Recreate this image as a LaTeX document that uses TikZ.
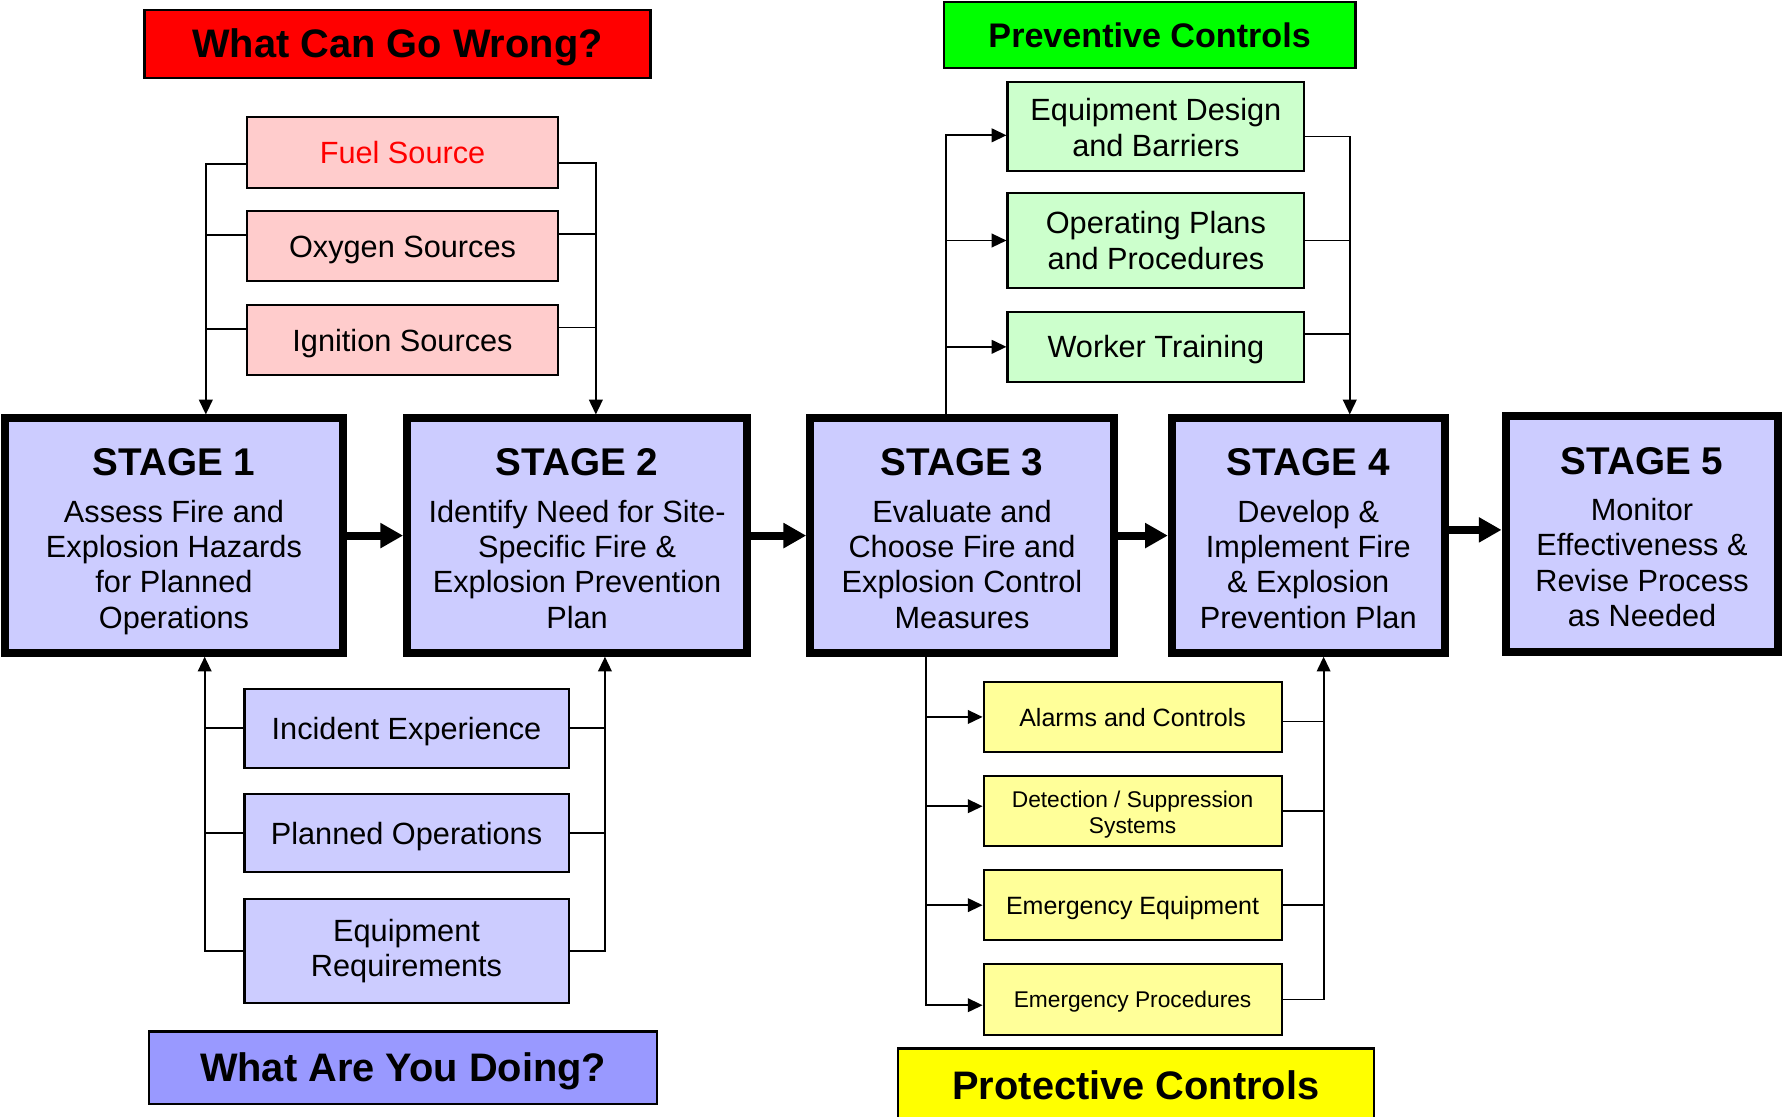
\documentclass[tikz,border=0pt]{standalone}
\usepackage{fontspec}
\setmainfont{Liberation Sans}
\usetikzlibrary{arrows.meta}

\definecolor{wrongred}{HTML}{FF0000}
\definecolor{sourcefill}{HTML}{FFCCCC}
\definecolor{stagefill}{HTML}{CCCCFF}
\definecolor{doingblue}{HTML}{9999FF}
\definecolor{prevgreen}{HTML}{00FF00}
\definecolor{prevfill}{HTML}{CCFFCC}
\definecolor{protyellow}{HTML}{FFFF00}
\definecolor{protfill}{HTML}{FFFF99}

\tikzset{
  header/.style={draw, line width=2pt, inner sep=0pt, text height=25pt, text depth=0pt,
    font=\fontsize{35}{40}\selectfont\bfseries},
  stage/.style={draw, line width=7pt, fill=stagefill, align=center,
    inner sep=0pt, minimum height=206, font=\fontsize{27}{31}\selectfont},
  item/.style={draw, line width=1.8pt, align=center, inner sep=0pt,
    font=\fontsize{27}{31}\selectfont},
  oneline/.style={text height=19.5pt, text depth=0pt},
  link/.style={line width=1.6pt},
  tip/.style={link, -{Triangle[length=13pt, width=12pt]}},
  flow/.style={line width=7pt, -{Triangle[length=20pt, width=21pt]}},
}
\newcommand{\stagetitle}[1]{\rule{0pt}{38pt}{\fontsize{34}{34}\selectfont\bfseries #1}\\[10pt]}

\begin{document}
\begin{tikzpicture}[x=1pt, y=-1pt]
\useasboundingbox (0,0) rectangle (1568,982);

% headers
\node[header, fill=wrongred, minimum width=445, minimum height=60] (wrong) at (349.5,38.5) {What Can Go Wrong?};
\node[header, fill=prevgreen, minimum width=362, minimum height=58, text height=21.5pt,
  font=\fontsize{30}{34}\selectfont\bfseries] (prev) at (1011,31) {Preventive Controls};
\node[header, fill=doingblue, minimum width=447, minimum height=64] (doing) at (354.5,939) {What Are You Doing?};
\node[header, fill=protyellow, minimum width=418, minimum height=64] (prot) at (999,954) {Protective Controls};

% stages
\node[stage, minimum width=298] (s1) at (153,471)
  {\stagetitle{STAGE 1}Assess Fire and\\Explosion Hazards\\for Planned\\Operations\strut};
\node[stage, minimum width=299] (s2) at (507.5,471)
  {\stagetitle{STAGE 2}Identify Need for Site-\\Specific Fire \&\\Explosion Prevention\\Plan\strut};
\node[stage, minimum width=267] (s3) at (846,471)
  {\stagetitle{STAGE 3}Evaluate and\\Choose Fire and\\Explosion Control\\Measures\strut};
\node[stage, minimum width=240] (s4) at (1150.5,471)
  {\stagetitle{STAGE 4}Develop \&\\Implement Fire\\\& Explosion\\Prevention Plan\strut};
\node[stage, minimum width=240, minimum height=208] (s5) at (1444,469.5)
  {\stagetitle{STAGE 5}Monitor\\Effectiveness \&\\Revise Process\\as Needed\strut};

\draw[flow] (s1) -- (s2);
\draw[flow] (s2) -- (s3);
\draw[flow] (s3) -- (s4);
\draw[flow] ([yshift=5]s4.east) -- ([yshift=5]s4.east -| s5.west);

% what can go wrong
\node[item, oneline, fill=sourcefill, text=wrongred, minimum width=274, minimum height=62] (fuel) at (354,134) {Fuel Source};
\node[item, oneline, fill=sourcefill, minimum width=274, minimum height=62] (oxy) at (354,216.5) {Oxygen Sources};
\node[item, oneline, fill=sourcefill, minimum width=274, minimum height=62] (ign) at (354,299) {Ignition Sources};

\coordinate (srcL) at (181,0);
\coordinate (srcR) at (524,0);
\draw[tip] ([yshift=-10]fuel.west) -| (s1.north -| srcL);
\draw[link] ([yshift=10]oxy.west) -- ([yshift=10]oxy.west -| srcL);
\draw[link] ([yshift=10]ign.west) -- ([yshift=10]ign.west -| srcL);
\draw[tip] ([yshift=-9]fuel.east) -| (s2.north -| srcR);
\draw[link] ([yshift=11]oxy.east) -- ([yshift=11]oxy.east -| srcR);
\draw[link] ([yshift=11]ign.east) -- ([yshift=11]ign.east -| srcR);

% what are you doing
\node[item, oneline, fill=stagefill, minimum width=285, minimum height=69] (inc) at (357.5,640.5) {Incident Experience};
\node[item, oneline, fill=stagefill, minimum width=285, minimum height=69] (plan) at (357.5,732.5) {Planned Operations};
\node[item, fill=stagefill, minimum width=285, minimum height=91] (req) at (357.5,836.5) {Equipment\\Requirements};

\coordinate (doL) at (180,0);
\coordinate (doR) at (532,0);
\draw[tip] (req.west) -| (s1.south -| doL);
\draw[link] (inc.west) -- (inc.west -| doL);
\draw[link] (plan.west) -- (plan.west -| doL);
\draw[tip] (req.east) -| (s2.south -| doR);
\draw[link] (inc.east) -- (inc.east -| doR);
\draw[link] (plan.east) -- (plan.east -| doR);

% preventive controls
\node[item, fill=prevfill, minimum width=261, minimum height=78] (design) at (1016.5,111) {\rule{0pt}{22pt}Equipment Design\\and Barriers};
\node[item, fill=prevfill, minimum width=261, minimum height=83] (oper) at (1016.5,211.5) {Operating Plans\\and Procedures};
\node[item, oneline, fill=prevfill, minimum width=261, minimum height=62] (train) at (1016.5,305) {Worker Training};

\coordinate (prevL) at (832,0);
\coordinate (prevR) at (1187,0);
\draw[tip] (s3.north -| prevL) |- ([yshift=-8]design.west);
\draw[tip] (oper.west -| prevL) -- (oper.west);
\draw[tip] (train.west -| prevL) -- (train.west);
\draw[tip] ([yshift=-9]design.east) -| (s4.north -| prevR);
\draw[link] (oper.east) -- (oper.east -| prevR);
\draw[link] ([yshift=11]train.east) -- ([yshift=11]train.east -| prevR);

% protective controls
\node[item, oneline, fill=protfill, minimum width=262, minimum height=62,
  font=\fontsize{22}{25}\selectfont, text height=16pt] (alarm) at (996,630.5) {Alarms and Controls};
\node[item, fill=protfill, minimum width=262, minimum height=62,
  font=\fontsize{20}{23}\selectfont] (detect) at (996,713) {\rule{0pt}{21pt}Detection / Suppression\\Systems};
\node[item, oneline, fill=protfill, minimum width=262, minimum height=62,
  font=\fontsize{22}{25}\selectfont, text height=16pt] (emeq) at (996,796) {Emergency Equipment};
\node[item, oneline, fill=protfill, minimum width=262, minimum height=62,
  font=\fontsize{20}{23}\selectfont, text height=14.5pt] (empr) at (996,879) {Emergency Procedures};

\coordinate (protL) at (814,0);
\coordinate (protR) at (1164,0);
\draw[tip] (s3.south -| protL) |- ([yshift=-5]empr.west);
\draw[tip] (alarm.west -| protL) -- (alarm.west);
\draw[tip] ([yshift=4]detect.west -| protL) -- ([yshift=4]detect.west);
\draw[tip] (emeq.west -| protL) -- (emeq.west);
\draw[tip] (empr.east) -| (s4.south -| protR);
\draw[link] ([yshift=-4]alarm.east) -- ([yshift=-4]alarm.east -| protR);
\draw[link] (detect.east) -- (detect.east -| protR);
\draw[link] (emeq.east) -- (emeq.east -| protR);
\end{tikzpicture}
\end{document}
